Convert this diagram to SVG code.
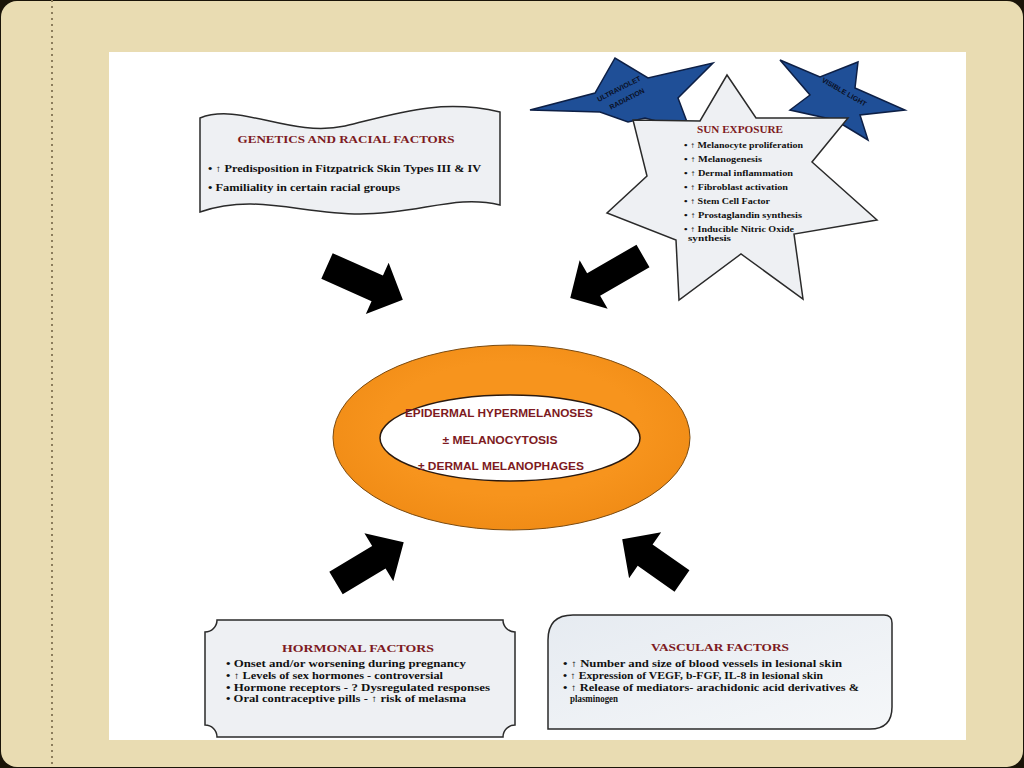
<svg xmlns="http://www.w3.org/2000/svg" width="1024" height="768" viewBox="0 0 1024 768">
<style>
.title{font-family:"Liberation Serif",serif;font-weight:bold;fill:#7d1a22;font-size:11px}
.body{font-family:"Liberation Serif",serif;font-weight:bold;fill:#111;font-size:9.5px}
.small{font-family:"Liberation Serif",serif;font-weight:bold;fill:#111;font-size:8px}
.ctr{font-family:"Liberation Sans",sans-serif;font-weight:bold;fill:#7d1a22;font-size:11px}
.box{fill:#eef0f3;stroke:#2a2a2a;stroke-width:1.5}
.blue{fill:#1f4f97;stroke:#0d1f45;stroke-width:1.5}
.star{font-family:"Liberation Sans",sans-serif;font-weight:bold;fill:#0a0f25;font-size:7px}
.arrow{fill:#000}
</style>
<defs>
<linearGradient id="vg" x1="0" y1="0" x2="1" y2="1">
<stop offset="0" stop-color="#e6ebf1"/><stop offset="1" stop-color="#f5f7f9"/>
</linearGradient>
<radialGradient id="og" cx="0.5" cy="0.45" r="0.6">
<stop offset="0.6" stop-color="#f7941d"/><stop offset="1" stop-color="#ef8a14"/>
</radialGradient>
</defs>
<g id="background">
<rect x="0" y="0" width="1024" height="768" fill="#1a1408"/>
<rect x="1" y="1" width="1022" height="766" rx="16" fill="#e9dcb2"/>
<line x1="52" y1="0" x2="52" y2="768" stroke="#8c7d5c" stroke-width="2" stroke-dasharray="2 4"/>
<rect x="109" y="52" width="857" height="688" fill="#ffffff"/>
</g>
<g id="uv-star">
<polygon class="blue" points="530,110 595,93 615,58 648,78 713,63 678,98 690,130 645,118 628,122 600,112"/>
<text class="star" transform="translate(620,91) rotate(-27)" text-anchor="middle">ULTRAVIOLET</text>
<text class="star" transform="translate(628,101) rotate(-27)" text-anchor="middle">RADIATION</text>
</g>
<g id="visible-star">
<polygon class="blue" points="780,60 820,77 858,62 855,88 905,110 860,115 868,140 835,120 790,110 810,95"/>
<text class="star" transform="translate(843,94) rotate(30)" text-anchor="middle">VISIBLE LIGHT</text>
</g>
<g id="sun-exposure">
<polygon class="box" points="727,75 756,118 848,118 812,162 877,220 794,234 803,299 741,254 679,300 676,240 607,213 647,176 633,120 700,121"/>
<text class="title" x="740" y="133" text-anchor="middle" textLength="86" lengthAdjust="spacingAndGlyphs">SUN EXPOSURE</text>
<text class="small" x="684" y="148" textLength="119" lengthAdjust="spacingAndGlyphs">•  ↑ Melanocyte proliferation</text>
<text class="small" x="684" y="162" textLength="78" lengthAdjust="spacingAndGlyphs">•  ↑ Melanogenesis</text>
<text class="small" x="684" y="176" textLength="109" lengthAdjust="spacingAndGlyphs">•  ↑ Dermal inflammation</text>
<text class="small" x="684" y="190" textLength="104" lengthAdjust="spacingAndGlyphs">•  ↑ Fibroblast activation</text>
<text class="small" x="684" y="204" textLength="86" lengthAdjust="spacingAndGlyphs">•  ↑ Stem Cell Factor</text>
<text class="small" x="684" y="218" textLength="118" lengthAdjust="spacingAndGlyphs">•  ↑ Prostaglandin synthesis</text>
<text class="small" x="684" y="232" textLength="110" lengthAdjust="spacingAndGlyphs">•  ↑ Inducible Nitric Oxide</text>
<text class="small" x="688" y="241" textLength="43" lengthAdjust="spacingAndGlyphs">synthesis</text>
</g>
<g id="genetics">
<path class="box" d="M200,118 C240,102 290,138 345,126 C395,114 440,98 500,112 L500,205 C455,194 420,214 360,214 C300,214 255,193 200,212 Z"/>
<text class="title" x="346" y="143" text-anchor="middle" textLength="217" lengthAdjust="spacingAndGlyphs">GENETICS AND RACIAL FACTORS</text>
<text class="body" x="208" y="172" textLength="273" lengthAdjust="spacingAndGlyphs">•  ↑ Predisposition in Fitzpatrick Skin Types III &amp; IV</text>
<text class="body" x="208" y="191" textLength="192" lengthAdjust="spacingAndGlyphs">•   Familiality in certain racial groups</text>
</g>
<g id="center">
<ellipse cx="511.5" cy="437.5" rx="178.5" ry="92.5" fill="url(#og)" stroke="#7a4a10" stroke-width="1"/>
<ellipse cx="510" cy="438" rx="130" ry="43" fill="#ffffff" stroke="#2a1a10" stroke-width="1.5"/>
<text class="ctr" x="499" y="417" text-anchor="middle" textLength="188" lengthAdjust="spacingAndGlyphs">EPIDERMAL HYPERMELANOSES</text>
<text class="ctr" x="500" y="444" text-anchor="middle" textLength="115" lengthAdjust="spacingAndGlyphs">±  MELANOCYTOSIS</text>
<text class="ctr" x="501" y="470" text-anchor="middle" textLength="166" lengthAdjust="spacingAndGlyphs">± DERMAL MELANOPHAGES</text>
</g>
<g id="hormonal">
<path class="box" d="M217,620 L503,620 A12,12 0 0 0 515,632 L515,725 A12,12 0 0 0 503,737 L217,737 A12,12 0 0 0 205,725 L205,632 A12,12 0 0 0 217,620 Z"/>
<text class="title" x="358" y="652" text-anchor="middle" textLength="152" lengthAdjust="spacingAndGlyphs">HORMONAL FACTORS</text>
<text class="body" x="226" y="667" textLength="240" lengthAdjust="spacingAndGlyphs">•  Onset and/or worsening during pregnancy</text>
<text class="body" x="226" y="679" textLength="217" lengthAdjust="spacingAndGlyphs">•  ↑ Levels of sex hormones - controversial</text>
<text class="body" x="226" y="691" textLength="264" lengthAdjust="spacingAndGlyphs">•   Hormone receptors  - ? Dysregulated responses</text>
<text class="body" x="226" y="702" textLength="240" lengthAdjust="spacingAndGlyphs">•  Oral contraceptive pills - ↑ risk of melasma</text>
</g>
<g id="vascular">
<path d="M573,615 L884,615 Q892,615 892,623 L892,707 Q892,729 870,729 L548,729 L548,640 Q548,615 573,615 Z" fill="url(#vg)" stroke="#2a2a2a" stroke-width="1.5"/>
<text class="title" x="720" y="651" text-anchor="middle" textLength="138" lengthAdjust="spacingAndGlyphs">VASCULAR FACTORS</text>
<text class="body" x="563" y="667" textLength="279" lengthAdjust="spacingAndGlyphs">•  ↑ Number and size of blood vessels in lesional  skin</text>
<text class="body" x="563" y="679" textLength="260" lengthAdjust="spacingAndGlyphs">•  ↑ Expression of  VEGF, b-FGF, IL-8  in lesional skin</text>
<text class="body" x="563" y="691" textLength="296" lengthAdjust="spacingAndGlyphs">•  ↑ Release of mediators- arachidonic acid derivatives &amp;</text>
<text class="body" x="570" y="702" textLength="48" lengthAdjust="spacingAndGlyphs">plasminogen</text>
</g>
<g id="connectors">
<polygon class="arrow" transform="translate(327,266) rotate(24)" points="0,-14 55,-14 55,-28 83,0 55,28 55,14 0,14"/>
<polygon class="arrow" transform="translate(643,256) rotate(150)" points="0,-13 57,-13 57,-28 84,0 57,28 57,13 0,13"/>
<polygon class="arrow" transform="translate(336,583) rotate(-31)" points="0,-13 50,-13 50,-28 79,0 50,28 50,13 0,13"/>
<polygon class="arrow" transform="translate(682,581) rotate(-145)" points="0,-13 45,-13 45,-28 73,0 45,28 45,13 0,13"/>
</g>
</svg>
